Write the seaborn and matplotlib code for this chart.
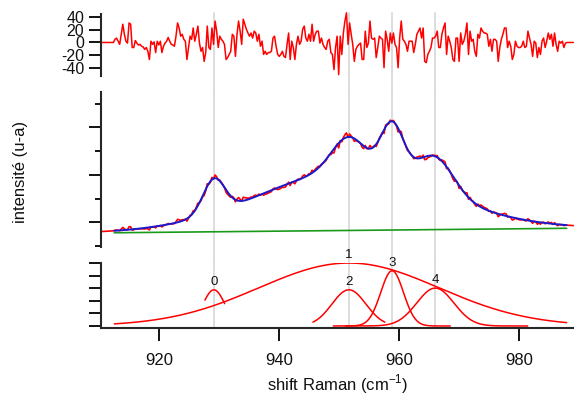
import numpy as np
import matplotlib
matplotlib.use("Agg")
import matplotlib.pyplot as plt
import seaborn as sns
from matplotlib.ticker import MultipleLocator, NullFormatter

# ---------------- data ----------------
peak_labels = ["0", "1", "2", "3", "4"]
peak_centers = [929.1, 951.6, 951.6, 958.8, 966.0]
peak_heights = [359, 625, 359, 548, 376]
peak_sigmas = [1.83, 15.0, 2.83, 1.9, 3.1]
peak_lo = [927.6, 912.5, 945.6, 949.0, 951.0]
peak_hi = [930.9, 987.9, 957.6, 968.5, 981.4]
marker_lines = [929.1, 951.6, 958.8, 966.0]

fit_range = [912.5, 987.9]
baseline_ends = [390, 437]          # linear baseline at both ends of the fit range

resid_start, resid_end = 912.35, 987.7
residual = [
    0, 5, 7, 2, -3, 13, 29, 13, 2, -1, 31, 29, -8, -8, 3, -1, -4, -3, -6, -7,
    -11, -8, -14, -27, 2, -3, 1, -16, 2, -4, 2, -16, -6, -1, 2, 8, 2, -3, -4, -6,
    10, 31, 23, 10, 13, 5, 2, -27, -8, 10, 5, 23, 2, 13, 26, -1, -14, -8, -30, -16,
    26, -8, -11, 23, -3, 34, 18, -8,
    10, 5, 2, -3, -27, -24, -19, -14, 13, 10, -22, 13, 34, 18, -3, 37, 29, 21, 15, 10,
    15, 7, 18, 15, 2, 13, -6, 2, -19, -14, -19, -16, -16, -14, 7, 10, -6, -19, -22, -19,
    -14, -22, -24, -3, 15, -27, 2, -8, -27, -3, 10, -3, 2, 21, 26, 7, 2, 13, 2, 29,
    2, 13, 18, 18, -1, 7, -3, -8, -11, 2, 5, -16, -19, -43, -8, 10,
    -51, 10, -19, 15, 34, 47, -3, 31, 13, -3, -30, -11, -6, -3, -1, -27, -27, 18, -8, -1,
    34, 7, 5, 7, -24, -8, 10, 7, 5, -40, 18, 5, -14, 15, -1, 15, -3, -8, -40, 7,
    34, 5, 2, -3, -14, 2, 2, 2, -16, -3, 13, 18, 23, 7, 23, -30, -32, -19, -14, -8,
    7, 7, 10, 18, -8, -8, 13, 23, 31, -19, 10, 2, -8, -27, -30, 7,
    7, -30, 15, -3, 2, 13, 31, -19, 18, 2, 5, -14, -22, 13, 7, 23, 18, 15, 15, 13,
    -6, 5, -14, 5, 5, 2, -30, -8, 5, 13, 23, 23, -8, 2, -6, -27, -19, 2, -6, -8,
    -8, -6, 2, -8, -6, 18, 7, -3, -22, 2, -1, -24, -8, -19, 2, 7, -8, 2, 15, 5,
    13, -6, 15, -3, -14, 2, -1, 2, -8, -1,
]
x_ticks = [920, 940, 960, 980]
top_ticks = [-40, -20, 0, 20, 40]
x_label = "shift Raman (cm$^{\\mathregular{-1}}$)"
y_label = "intensité (u-a)"

# ---------------- styling ----------------
sns.set_theme(style="ticks")
plt.rcParams["font.family"] = ["Liberation Sans", "DejaVu Sans"]
plt.rcParams["mathtext.fontset"] = "custom"
plt.rcParams["mathtext.rm"] = "Liberation Sans"
plt.rcParams["axes.unicode_minus"] = False

RED = "#ff0000"
BLUE = "#1a1acc"
GREEN = "#1a9a1a"
GREY = "#dadada"


def gauss(x, c, h, s):
    return h * np.exp(-0.5 * ((x - c) / s) ** 2)


def baseline(x):
    x0, x1 = fit_range
    b0, b1 = baseline_ends
    return b0 + (np.asarray(x) - x0) * (b1 - b0) / (x1 - x0)


def model(x):
    tot = baseline(x)
    for c, h, s in zip(peak_centers, peak_heights, peak_sigmas):
        tot = tot + gauss(x, c, h, s)
    return tot


# sampling grid of the measured spectrum (regular spacing)
n_res = len(residual)
step = (resid_end - resid_start) / (n_res - 1)
idx = np.arange(-8, n_res + 5)
x_spec = resid_start + step * idx
res_full = np.zeros(len(idx))
res_full[8:8 + n_res] = residual
spectrum = model(x_spec) + res_full

x_fit = np.linspace(fit_range[0], fit_range[1], 600)

W, H = 574, 396
fig = plt.figure(figsize=(W / 100, H / 100), dpi=100)
L = 101 / W
Wd = 473 / W
ax_top = fig.add_axes([L, 1 - 76 / H, Wd, 62 / H])
ax_main = fig.add_axes([L, 1 - 247.3 / H, Wd, 155.6 / H])
ax_bot = fig.add_axes([L, 1 - 328.3 / H, Wd, 65.3 / H])

xlim = (910.28, 989.12)
for ax in (ax_top, ax_main, ax_bot):
    ax.set_xlim(*xlim)
    ax.set_facecolor("none")
    for sp in ("top", "right"):
        ax.spines[sp].set_visible(False)
    ax.spines["left"].set_linewidth(1.5)
    ax.spines["bottom"].set_linewidth(1.5)
    ax.tick_params(axis="both", which="major", direction="out", length=9,
                   width=1.3, labelsize=12, color="black", labelcolor="#111111")
    ax.tick_params(axis="both", which="minor", direction="out", length=4.5,
                   width=1.3, color="black")
for ax in (ax_top, ax_main):
    ax.spines["bottom"].set_visible(False)
    ax.tick_params(axis="x", which="both", bottom=False, labelbottom=False)

# grey marker lines running through all panels
for c in marker_lines:
    ax_top.axvline(c, ymin=-0.255, ymax=1.01, color=GREY, lw=1.3, zorder=0, clip_on=False)
    ax_main.axvline(c, ymin=-0.101, ymax=1.0, color=GREY, lw=1.3, zorder=0, clip_on=False)
    ax_bot.axvline(c, ymin=0, ymax=1.0, color=GREY, lw=1.3, zorder=0)

# ---- top: residual ----
sns.lineplot(x=x_spec, y=res_full, ax=ax_top, color=RED, lw=1.1,
             estimator=None, sort=False, clip_on=False)
ax_top.set_ylim(-53.2, 45.2)
ax_top.set_yticks(top_ticks)
ax_top.tick_params(axis="y", pad=3, labelsize=11.5)

# ---- main: spectrum, fit, baseline ----
sns.lineplot(x=x_fit, y=baseline(x_fit), ax=ax_main, color=GREEN, lw=1.2,
             estimator=None, sort=False)
sns.lineplot(x=x_spec, y=spectrum, ax=ax_main, color=RED, lw=1.2,
             estimator=None, sort=False)
sns.lineplot(x=x_fit, y=model(x_fit), ax=ax_main, color=BLUE, lw=1.4,
             estimator=None, sort=False)
ax_main.set_ylim(237, 1875)
ax_main.yaxis.set_major_locator(MultipleLocator(500))
ax_main.yaxis.set_minor_locator(MultipleLocator(250))
ax_main.yaxis.set_major_formatter(NullFormatter())

# ---- bottom: peak components ----
for lab, c, h, s, lo, hi in zip(peak_labels, peak_centers, peak_heights,
                                peak_sigmas, peak_lo, peak_hi):
    xs = np.linspace(lo, hi, 300)
    sns.lineplot(x=xs, y=gauss(xs, c, h, s), ax=ax_bot, color=RED, lw=1.1,
                 estimator=None, sort=False)
    ax_bot.annotate(lab, (c, h), xytext=(0, 3.4), textcoords="offset points",
                    ha="center", va="baseline", fontsize=9.5, color="#111111",
                    annotation_clip=False)
ax_bot.set_ylim(-23, 625)
ax_bot.set_yticks([0, 125, 250, 375, 500, 625])
ax_bot.yaxis.set_major_formatter(NullFormatter())
ax_bot.set_xticks(x_ticks)
ax_bot.tick_params(axis="x", pad=8.5)
for ax in (ax_top, ax_main, ax_bot):
    ax.set_xlabel("")
    ax.set_ylabel("")

fig.text(21 / W, 1 - 172 / H, y_label, rotation=90, ha="center", va="center",
         fontsize=12, color="#111111")
fig.text(338 / W, 1 - 384.5 / H, x_label, ha="center", va="center",
         fontsize=12, color="#111111")

fig.savefig("out.png", dpi=100)
